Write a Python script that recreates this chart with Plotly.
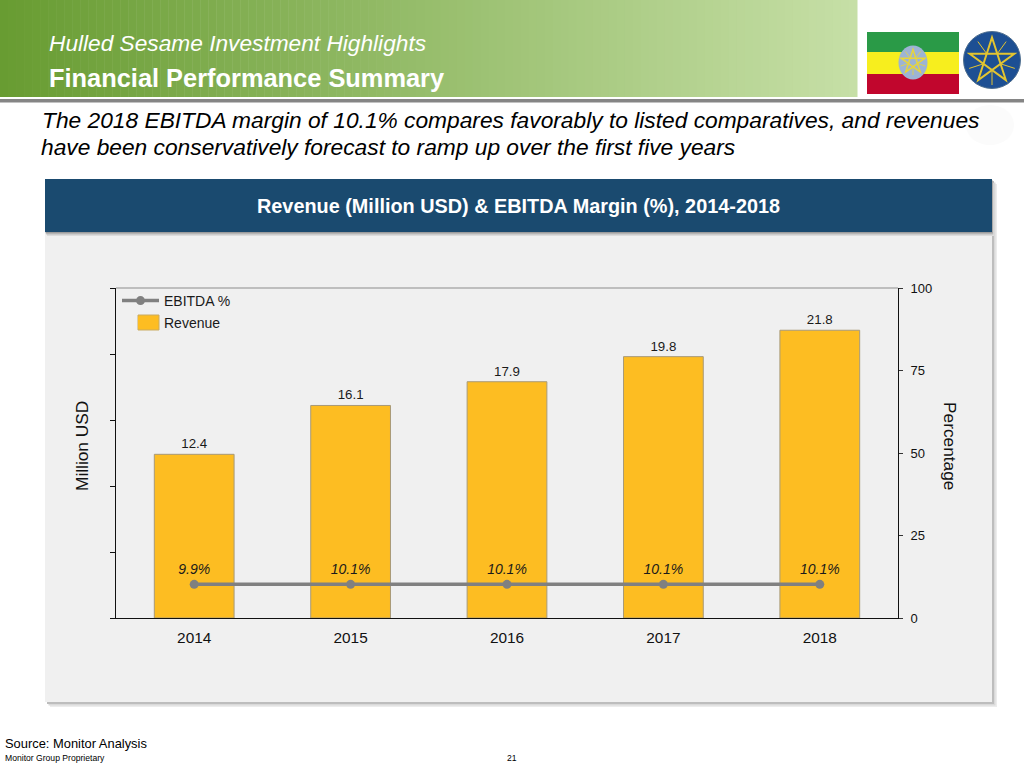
import math
import plotly.graph_objects as go

W, H = 1024, 768
years = ["2014", "2015", "2016", "2017", "2018"]
revenue = [12.4, 16.1, 17.9, 19.8, 21.8]
ebitda_line = [10.2, 10.2, 10.2, 10.2, 10.2]
revenue_labels = ["12.4", "16.1", "17.9", "19.8", "21.8"]
ebitda_labels = ["9.9%", "10.1%", "10.1%", "10.1%", "10.1%"]
left_ticks = [0, 5, 10, 15, 20, 25]
right_ticks = [0, 25, 50, 75, 100]

FONT = "Liberation Sans"


def X(x):
    return x / W


def Y(y):
    return 1 - y / H


def rect(x0, y0, x1, y1, fill, line=None):
    return dict(type="rect", xref="paper", yref="paper", x0=X(x0), x1=X(x1), y0=Y(y0), y1=Y(y1),
                fillcolor=fill, line=dict(width=1 if line else 0, color=line or fill), layer="below")


def mix(a, b, t):
    return "rgb(%d,%d,%d)" % tuple(round(a[i] + (b[i] - a[i]) * t) for i in range(3))


def star_path(cx, cy, r):
    pts = [(cx + r * math.sin(4 * math.pi * k / 5), cy - r * math.cos(4 * math.pi * k / 5)) for k in range(5)]
    return "M" + " L".join(f"{X(px):.5f},{Y(py):.5f}" for px, py in pts) + " Z"


def rays_path(cx, cy, r0, r1):
    parts = []
    for k in range(5):
        a = 2 * math.pi * (k + 0.5) / 5
        parts.append(f"M{X(cx + r0 * math.sin(a)):.5f},{Y(cy - r0 * math.cos(a)):.5f} "
                     f"L{X(cx + r1 * math.sin(a)):.5f},{Y(cy - r1 * math.cos(a)):.5f}")
    return " ".join(parts)


def path(d, color, width):
    return dict(type="path", xref="paper", yref="paper", path=d, line=dict(color=color, width=width), layer="below")


def ellipse(cx, cy, rx, ry, fill, line=None, lw=0):
    return dict(type="circle", xref="paper", yref="paper", x0=X(cx - rx), x1=X(cx + rx), y0=Y(cy - ry), y1=Y(cy + ry),
                fillcolor=fill, line=dict(width=lw, color=line or fill), layer="below")


shapes = []
# header gradient
n = 107
for i in range(n):
    shapes.append(rect(i * 857 / n, 0, (i + 1) * 857 / n + 0.5, 97, mix((104, 156, 50), (198, 223, 166), i / (n - 1))))
shapes.append(rect(0, 99, 1024, 102.5, "#858585"))
# faint smudge right of the headline
shapes.append(ellipse(990, 125, 24, 20, "#fbfbfb"))
# panel with soft shadow
for off, col in [(5, "#ececec"), (3.5, "#d9d9d9"), (2, "#bdbdbd")]:
    shapes.append(rect(45 + off, 179 + off, 992 + off, 702 + off, col))
shapes.append(rect(45, 179, 992, 702, "#f0f0f0"))
for off, col in [(4, "#dcdcdc"), (2.5, "#bcbcbc"), (1.2, "#9c9c9c")]:
    shapes.append(rect(45 + off * 0.5, 179 + off, 992 + off * 0.5, 232 + off, col))
shapes.append(rect(45, 179, 992, 232, "#1a4a6f"))
# flag
shapes.append(rect(867, 32, 959, 52, "#2a9a47"))
shapes.append(rect(867, 52, 959, 74, "#f7ee1e"))
shapes.append(rect(867, 74, 959, 94, "#c1062d"))
shapes.append(ellipse(913, 62.5, 14.5, 17, "#9db4d4"))
shapes.append(path(star_path(913, 62, 12.5), "#e7d53c", 1.5))
shapes.append(path(rays_path(913, 62, 6, 13), "#e7d53c", 0.8))
# emblem
shapes.append(ellipse(992, 60, 28.5, 28.5, "#1d4f93", "#4f6f8f", 1))
shapes.append(path(star_path(992, 61, 23.5), "#e3c430", 2))
shapes.append(path(rays_path(992, 61, 9, 24), "#e3c430", 1))
# top frame of the plot
shapes.append(dict(type="line", xref="paper", yref="paper", x0=X(116), x1=X(898), y0=Y(288), y1=Y(288),
                   line=dict(color="#8c8c8c", width=1), layer="below"))
# large legend swatch behind the legend entry
shapes.append(rect(138, 315, 159, 330, "#fdbd22", "#c9ab62"))

annotations = []


def note(x, y, text, size, color="#000000", anchor="left", italic=False, bold=False, angle=0):
    if bold:
        text = f"<b>{text}</b>"
    if italic:
        text = f"<i>{text}</i>"
    annotations.append(dict(xref="paper", yref="paper", x=X(x), y=Y(y), text=text, showarrow=False,
                            xanchor=anchor, yanchor="middle", borderpad=0, borderwidth=0, textangle=angle,
                            font=dict(family=FONT, size=size, color=color)))


note(49, 43, "Hulled Sesame Investment Highlights", 22.7, "#ffffff", italic=True)
note(49, 78, "Financial Performance Summary", 25.4, "#ffffff", bold=True)
note(42, 120, "The 2018 EBITDA margin of 10.1% compares favorably to listed comparatives, and revenues", 22.75, italic=True)
note(41, 147, "have been conservatively forecast to ramp up over the first five years", 22.75, italic=True)
note(518.5, 206, "Revenue (Million USD) &amp; EBITDA Margin (%), 2014-2018", 19.85, "#ffffff", anchor="center", bold=True)
note(5, 743, "Source: Monitor Analysis", 12.9)
note(5, 758, "Monitor Group Proprietary", 8.6)
note(512, 758, "21", 8.6, anchor="center")
note(82, 446, "Million USD", 17.3, "#111111", anchor="center", angle=-90)
note(950, 446, "Percentage", 17.3, "#111111", anchor="center", angle=90)

fig = go.Figure()
fig.add_trace(go.Scatter(
    x=years, y=ebitda_line, name="EBITDA %", yaxis="y2", mode="lines+markers+text", legend="legend",
    text=ebitda_labels, textposition="top center",
    textfont=dict(family=FONT, size=14, color="#1a1a1a", style="italic"),
    line=dict(color="#808080", width=3.5), marker=dict(color="#808080", size=9),
))
fig.add_trace(go.Bar(
    x=years, y=revenue, name="Revenue", yaxis="y", showlegend=False,
    text=revenue_labels, textposition="outside", cliponaxis=False,
    textfont=dict(family=FONT, size=13.3, color="#1a1a1a"),
    marker=dict(color="#fdbd22", line=dict(color="#a89a78", width=1)),
))
fig.add_trace(go.Bar(
    x=[None], y=[None], name="Revenue", yaxis="y", legend="legend2",
    marker=dict(color="#fdbd22", line=dict(width=0)),
))
legend_font = dict(family=FONT, size=14, color="#1a1a1a")
fig.update_layout(
    width=W, height=H, autosize=False, margin=dict(l=0, r=0, t=0, b=0),
    paper_bgcolor="#ffffff", plot_bgcolor="rgba(0,0,0,0)", template="none",
    barmode="overlay", bargap=0.49, shapes=shapes, annotations=annotations,
    font=dict(family=FONT, size=13, color="#1a1a1a"),
    legend=dict(x=X(117), y=Y(301), xanchor="left", yanchor="middle", bgcolor="rgba(0,0,0,0)", borderwidth=0,
                font=legend_font, itemwidth=37),
    legend2=dict(x=X(124), y=Y(323), xanchor="left", yanchor="middle", bgcolor="rgba(0,0,0,0)", borderwidth=0,
                 font=legend_font, itemwidth=30),
    xaxis=dict(domain=[X(116), X(898)], type="category", categoryorder="array", categoryarray=years,
               automargin=False, showline=True, linecolor="#111111", linewidth=1, ticks="", showgrid=False,
               ticklabelstandoff=6, tickfont=dict(family=FONT, size=15.4, color="#111111"), zeroline=False),
    yaxis=dict(domain=[Y(618), Y(288)], range=[0, 25], tickvals=left_ticks, showticklabels=False, automargin=False,
               ticks="outside", ticklen=5, tickwidth=1, tickcolor="#111111", showgrid=False, zeroline=False,
               showline=True, linecolor="#111111", linewidth=1),
    yaxis2=dict(domain=[Y(618), Y(288)], range=[0, 100], overlaying="y", side="right", tickvals=right_ticks,
                automargin=False, ticks="outside", ticklen=4, tickwidth=1, tickcolor="#333333", showgrid=False,
                zeroline=False, showline=True, linecolor="#111111", linewidth=1,
                ticklabelstandoff=5, tickfont=dict(family=FONT, size=13, color="#111111")),
)
fig.write_html("out.html", config=dict(displayModeBar=False),
               post_script="document.body.style.margin='0';document.body.style.overflow='hidden';")
